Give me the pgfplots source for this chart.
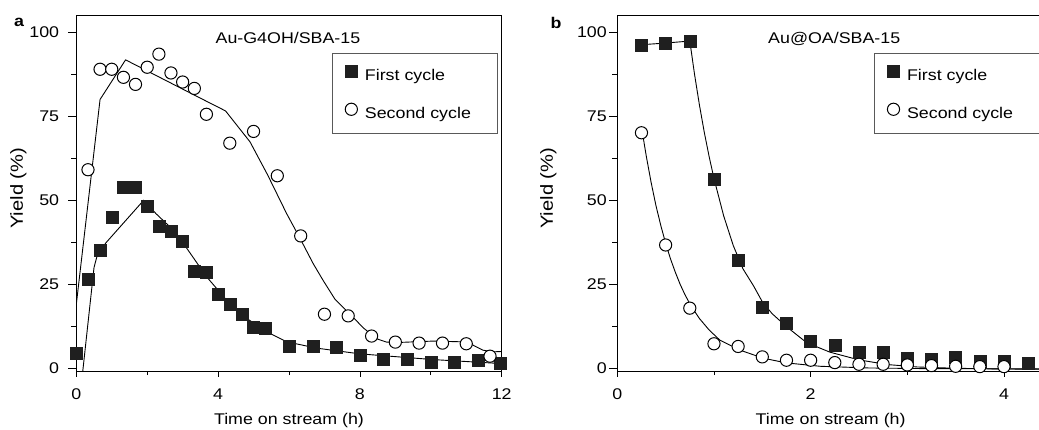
\documentclass[border=0pt]{standalone}
\usepackage{fontspec}
\setmainfont{Liberation Sans}[FakeStretch=1.15]
\usepackage{pgfplots}
\pgfplotsset{compat=1.18}
\usepackage{pgfplotstable}

% ---------- panel a data ----------
\pgfplotstableread{
x y
0 4.4
0.33 26.6
0.67 35.1
1.0 45.0
1.33 54.0
1.67 53.8
2.0 48.3
2.33 42.4
2.67 40.9
3.0 37.8
3.33 28.9
3.67 28.5
4.0 22.1
4.33 19.0
4.67 16.0
5.0 12.3
5.33 11.8
6.0 6.5
6.67 6.5
7.33 6.2
8.0 3.9
8.67 2.8
9.33 2.7
10.0 1.7
10.67 1.8
11.33 2.4
11.95 1.4
}\aFirst

\pgfplotstableread{
x y
0.33 59.1
0.67 89.0
1.0 89.0
1.33 86.6
1.67 84.5
2.0 89.6
2.33 93.5
2.67 87.9
3.0 85.2
3.33 83.3
3.67 75.6
4.33 67.0
5.0 70.5
5.67 57.3
6.33 39.4
7.0 16.1
7.67 15.6
8.33 9.6
9.0 7.8
9.67 7.5
10.33 7.5
11.0 7.3
11.67 3.6
}\aSecond

\pgfplotstableread{
x y
0.18 -1.1
0.5 30.0
0.6 34.0
0.84 37.4
1.9 50.0
2.25 46.0
2.6 42.5
3.0 37.5
3.67 27.3
4.24 20.3
4.8 14.9
5.37 10.9
5.93 7.9
6.78 6.0
8.0 4.3
10.06 2.6
12.0 1.4
}\aFirstFit

\pgfplotstableread{
x y
0.0 19.0
0.67 80.0
1.39 91.8
2.5 85.8
3.5 80.4
4.21 76.6
4.9 67.4
5.4 57.5
5.93 46.1
6.32 38.5
6.68 31.2
6.96 26.2
7.3 20.5
7.76 15.7
8.1 12.0
8.47 8.8
8.75 7.8
9.12 7.7
10.06 8.1
10.82 7.9
11.19 6.9
11.47 5.4
11.75 4.9
12.0 5.0
}\aSecondFit

% ---------- panel b data ----------
\pgfplotstableread{
x y
0.25 96.3
0.5 96.8
0.75 97.4
1.0 56.2
1.25 32.3
1.5 18.3
1.75 13.5
2.0 8.0
2.25 6.8
2.5 4.7
2.75 4.9
3.0 2.9
3.25 2.6
3.5 3.4
3.75 2.2
4.0 2.1
4.25 1.6
}\bFirst

\pgfplotstableread{
x y
0.25 70.1
0.5 36.7
0.75 17.9
1.0 7.3
1.25 6.5
1.5 3.4
1.75 2.4
2.0 2.4
2.25 1.7
2.5 1.2
2.75 1.2
3.0 1.0
3.25 0.8
3.5 0.6
3.75 0.5
4.0 0.5
}\bSecond

\pgfplotstableread{
x y
0.25 96.3
0.5 96.8
0.75 97.4
0.8 87.3
0.85 78.3
0.9 70.2
0.95 63.0
1.0 56.5
1.1 45.4
1.2 36.5
1.3 29.6
1.41 24.5
1.5 19.8
1.6 16.3
1.75 12.4
1.96 7.6
2.2 4.8
2.5 2.5
2.8 1.1
3.1 0.4
3.5 0.0
4.0 -0.2
4.5 -0.3
}\bFirstFit

\pgfplotstableread{
x y
0.26 70.1
0.30 63.1
0.35 55.3
0.40 48.4
0.45 42.5
0.50 37.2
0.55 32.6
0.60 28.6
0.65 25.0
0.70 21.9
0.76 18.7
0.85 14.8
0.95 11.4
1.06 8.4
1.27 5.4
1.51 3.0
1.75 1.6
2.1 0.6
2.6 0.1
3.2 -0.1
4.5 -0.2
}\bSecondFit

\pgfplotsset{
  panel/.style={
    scale only axis, height=356.7pt,
    ymin=-1.01, ymax=105.15,
    ytick={0,25,50,75,100}, minor ytick={12.5,37.5,62.5,87.5},
    tick align=outside, tick pos=left,
    major tick length=8pt, minor tick length=5pt,
    xtick style={/pgfplots/major tick length=5pt,/pgfplots/minor tick length=3.5pt},
    every tick/.style={black, line width=0.8pt},
    axis line style={black, line width=0.8pt},
    x axis line style={black!55, line width=1.1pt},
    /pgf/number format/assume math mode=true,
    xticklabel style={anchor=base, inner sep=0pt, yshift=-20.3pt},
    xlabel={Time on stream (h)}, ylabel={Yield (\%)},
    every axis x label/.style={at={(axis description cs:0.5,-0.1494)}, anchor=base},
    clip mode=individual,
    legend cell align=left,
    legend style={anchor=north west, draw=black!65, line width=0.8pt, fill=white,
      inner xsep=13pt, inner ysep=12pt, row sep=20.3pt, column sep=7.5pt,
      nodes={inner sep=0pt}},
  },
  sq/.style={only marks, mark=square*, mark size=6pt,
    mark options={fill=black!88, draw=black!88, line width=0.4pt},
    legend image code/.code={\draw[##1] plot coordinates {(0pt,5pt)};}},
  ci/.style={only marks, mark=*, mark size=6.1pt,
    mark options={fill=white, draw=black, line width=1pt},
    legend image code/.code={\draw[##1] plot coordinates {(0pt,5pt)};}},
  fit/.style={black, line width=0.9pt, no marks, forget plot, sharp plot},
}

\begin{document}
\fontsize{15.5pt}{18pt}\selectfont
\begin{tikzpicture}
\useasboundingbox (0pt,0pt) rectangle (1039pt,430pt);

% ---------------- panel a ----------------
\begin{axis}[panel,
  at={(76.3pt,58.3pt)}, anchor=south west, width=425.4pt,
  xmin=0, xmax=12, xtick={0,4,8,12}, minor xtick={2,6,10},
  yticklabel style={anchor=east, inner sep=0pt, xshift=-9pt},
  every axis y label/.style={at={(axis description cs:-0.1363,0.514)}, anchor=center, rotate=90,
    font=\fontsize{17.5pt}{20pt}\selectfont},
  legend style={at={(0.6007,0.8943)}},
]
\addplot[fit] table[x=x,y=y] {\aFirstFit};
\addplot[fit] table[x=x,y=y] {\aSecondFit};
\addplot[sq] table[x=x,y=y] {\aFirst};
\addplot[ci] table[x=x,y=y] {\aSecond};
\addlegendentry{\makebox[119.7pt][l]{First cycle}}
\addlegendentry{\makebox[119.7pt][l]{Second cycle}}
\node[anchor=base] at (axis cs:5.97,96.7) {Au-G4OH/SBA-15};
\end{axis}

% ---------------- panel b ----------------
\begin{axis}[panel,
  at={(617.3pt,58.3pt)}, anchor=south west, width=426.7pt,
  xmin=0, xmax=4.414, xtick={0,2,4}, minor xtick={1,3},
  yticklabel style={anchor=east, inner sep=0pt, xshift=-2.3pt},
  every axis y label/.style={at={(axis description cs:-0.1617,0.514)}, anchor=center, rotate=90,
    font=\fontsize{17.5pt}{20pt}\selectfont},
  legend style={at={(0.6016,0.8943)}},
]
\addplot[fit] table[x=x,y=y] {\bFirstFit};
\addplot[fit] table[x=x,y=y] {\bSecondFit};
\addplot[sq] table[x=x,y=y] {\bFirst};
\addplot[ci] table[x=x,y=y] {\bSecond};
\addlegendentry{\makebox[119.7pt][l]{First cycle}}
\addlegendentry{\makebox[119.7pt][l]{Second cycle}}
\node[anchor=base] at (axis cs:2.244,96.7) {Au@OA/SBA-15};
\end{axis}

\node[anchor=base, font=\bfseries] at (19pt,403pt) {a};
\node[anchor=base, font=\bfseries] at (556pt,401.5pt) {b};
\end{tikzpicture}
\end{document}
